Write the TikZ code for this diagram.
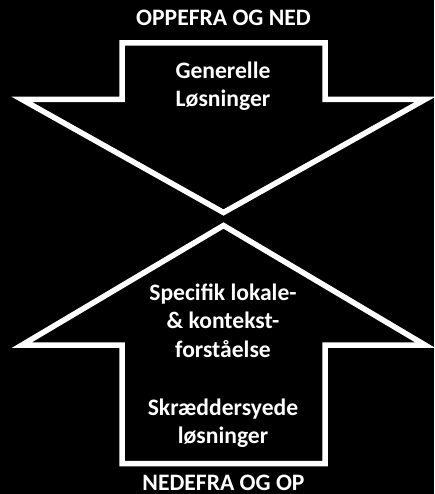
\documentclass[tikz,border=0pt]{standalone}
\usepackage{fontspec}
\setmainfont{Carlito}
\begin{document}
\begin{tikzpicture}[x=1pt,y=-1pt,
  arrowshape/.style={draw=white,line width=5.5pt,line join=miter,fill=black},
  lbl/.style={text=white,font=\bfseries\fontsize{23.6}{28}\selectfont,anchor=base,inner sep=0pt}]
\fill[black] (0,0) rectangle (434,494);
\useasboundingbox (0,0) rectangle (434,494);
% top arrow (down)
\draw[arrowshape] (122,43) -- (325,43) -- (325,99.5) -- (425,99.5) -- (223.5,212.5) -- (22,99.5) -- (122,99.5) -- cycle;
% bottom arrow (up)
\draw[arrowshape] (122,463.5) -- (325,463.5) -- (325,345) -- (425,345) -- (223.5,225.5) -- (22,345) -- (122,345) -- cycle;
\node[lbl] (top) at (223.5,26) {OPPEFRA OG NED};
\node[lbl] (g1) at (223,79) {Generelle};
\node[lbl] (g2) at (223,107) {Løsninger};
\node[lbl] (s1) at (223,300) {Specifik lokale-};
\node[lbl] (s2) at (223,328.5) {\& kontekst-};
\node[lbl] (s3) at (223,357) {forståelse};
\node[lbl] (k1) at (223,415) {Skræddersyede};
\node[lbl] (k2) at (223,443) {løsninger};
\node[lbl,text depth=0pt] (bot) at (223.5,490.5) {NEDEFRA OG OP};
\end{tikzpicture}
\end{document}
